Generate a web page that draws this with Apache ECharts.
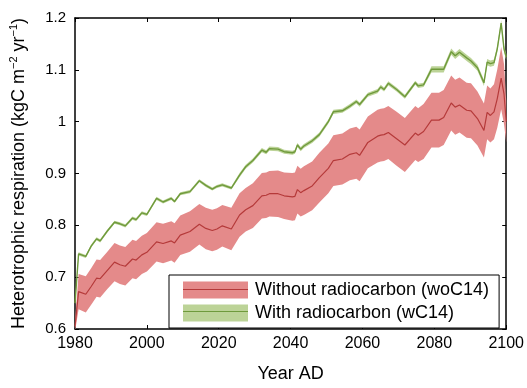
<!DOCTYPE html>
<html>
<head>
<meta charset="utf-8">
<script src="https://cdn.jsdelivr.net/npm/echarts@6/dist/echarts.min.js"></script>
<style>
html,body{margin:0;padding:0;background:#fff;}
#chart{width:527px;height:388px;}
</style>
</head>
<body>
<div id="chart"></div>
<script>
// ---- data ----
var years = [1980,1981,1983,1984.5,1986,1987,1989,1991,1992.5,1994,1996,1997,1998.6,2000,2002.7,2004.5,2006.8,2007.7,2009.3,2012,2014.6,2016.4,2018.2,2019.5,2021,2023.5,2025.8,2027.5,2029.5,2032,2033.2,2034.1,2036.5,2038.2,2040.5,2041.2,2041.9,2042.8,2043.7,2046,2048,2050.5,2051.9,2054.4,2056.5,2058.3,2059.2,2061.5,2064.2,2065.1,2066,2067.2,2069.5,2071.8,2073.3,2074.7,2075.5,2077,2079.2,2081.3,2082.6,2084.7,2085.8,2087,2089,2090.2,2092,2093.8,2094.7,2095.6,2096.6,2097.5,2098.6,2099.4,2100];

var wC14 = [0.65,0.745,0.740,0.760,0.774,0.770,0.789,0.806,0.803,0.799,0.814,0.811,0.824,0.821,0.852,0.845,0.852,0.846,0.861,0.865,0.886,0.877,0.870,0.875,0.878,0.872,0.897,0.913,0.925,0.945,0.941,0.948,0.947,0.942,0.940,0.942,0.955,0.947,0.953,0.963,0.975,1.000,1.019,1.021,1.030,1.039,1.033,1.052,1.059,1.067,1.062,1.074,1.062,1.048,1.062,1.075,1.069,1.071,1.101,1.101,1.101,1.135,1.127,1.134,1.123,1.117,1.104,1.075,1.115,1.112,1.114,1.140,1.190,1.140,1.125];

var wC14Spread = [0.003,0.003,0.003,0.003,0.003,0.003,0.003,0.003,0.003,0.003,0.003,0.003,0.003,0.003,0.003,0.003,0.003,0.003,0.003,0.003,0.003,0.003,0.003,0.003,0.003,0.003,0.004,0.004,0.004,0.004,0.004,0.004,0.004,0.004,0.004,0.004,0.004,0.004,0.004,0.004,0.004,0.004,0.004,0.004,0.004,0.004,0.004,0.004,0.004,0.004,0.004,0.004,0.004,0.004,0.004,0.004,0.004,0.004,0.006,0.006,0.006,0.006,0.006,0.006,0.006,0.006,0.006,0.006,0.006,0.006,0.006,0.006,0.006,0.006,0.006];

var woC14 = [0.605,0.672,0.667,0.682,0.698,0.697,0.713,0.729,0.724,0.721,0.735,0.733,0.743,0.748,0.768,0.765,0.770,0.766,0.781,0.788,0.802,0.794,0.790,0.793,0.799,0.793,0.820,0.830,0.838,0.857,0.858,0.861,0.861,0.857,0.855,0.856,0.869,0.863,0.867,0.876,0.892,0.910,0.925,0.928,0.937,0.940,0.935,0.960,0.972,0.974,0.975,0.979,0.967,0.955,0.967,0.978,0.974,0.981,1.003,1.003,1.008,1.036,1.028,1.032,1.022,1.021,1.006,0.983,1.018,1.012,1.019,1.044,1.084,1.053,1.000];

var woC14Spread = [0.010,0.034,0.035,0.035,0.036,0.036,0.036,0.037,0.037,0.037,0.037,0.037,0.037,0.037,
  0.038,0.038,0.038,0.038,0.038,0.039,0.039,0.040,0.040,0.040,0.040,0.041,
  0.042,0.042,0.043,0.044,0.044,0.044,0.045,0.045,0.046,0.046,0.046,0.046,0.047,0.047,0.048,
  0.048,0.049,0.049,0.050,0.050,0.050,0.050,0.051,0.051,0.051,0.051,0.052,0.052,0.052,0.052,0.052,0.053,
  0.053,0.053,0.053,0.053,0.053,0.053,0.053,0.053,0.052,0.052,0.052,0.052,0.053,0.056,0.060,0.058,0.040];

var seriesNames = ['Without radiocarbon (woC14)', 'With radiocarbon (wC14)'];
var xTicks = [1980, 2000, 2020, 2040, 2060, 2080, 2100];
var yTicks = [0.6, 0.7, 0.8, 0.9, 1.0, 1.1, 1.2];

// ---- build series data ----
function pairs(vals) { return years.map(function (y, i) { return [y, vals[i]]; }); }
function bandData(vals, sp) {
  return years.map(function (y, i) { return [y, vals[i] - sp[i], vals[i] + sp[i]]; });
}
function makeBand(name, data, color) {
  return {
    name: name, type: 'custom', silent: true, clip: true,
    data: data, encode: {x: 0, y: [1, 2]},
    itemStyle: {color: color},
    renderItem: function (params, api) {
      if (params.dataIndex !== 0) return null;
      var pts = [], i;
      for (i = 0; i < data.length; i++) pts.push(api.coord([data[i][0], data[i][2]]));
      for (i = data.length - 1; i >= 0; i--) pts.push(api.coord([data[i][0], data[i][1]]));
      return {type: 'polygon', shape: {points: pts}, style: {fill: color}};
    }
  };
}

var RED_BAND = '#e48a8a', RED_LINE = '#b53a3a';
var GRN_BAND = '#bcd397', GRN_LINE = '#6f9a3c';
var FONT = 'Liberation Sans, Arial, Helvetica, sans-serif';

var chart = echarts.init(document.getElementById('chart'), null, {renderer: 'canvas'});

var axisCommon = {
  axisLine: {show: true, lineStyle: {color: '#000', width: 1.5}},
  axisTick: {show: true, inside: true, length: 4, lineStyle: {color: '#000', width: 1}},
  splitLine: {show: false}
};

var option = {
  animation: false,
  backgroundColor: '#fff',
  grid: {left: 72, right: 16, top: 18, bottom: 49, containLabel: false},
  xAxis: [
    Object.assign({
      type: 'value', min: xTicks[0], max: xTicks[xTicks.length - 1], interval: 20,
      position: 'bottom',
      name: 'Year AD', nameLocation: 'middle', nameGap: 36,
      nameTextStyle: {fontFamily: FONT, fontSize: 18, color: '#000'},
      axisLabel: {fontFamily: FONT, fontSize: 16, color: '#000', margin: 7,
        formatter: function (v) { return String(v); }}
    }, axisCommon),
    Object.assign({
      type: 'value', min: xTicks[0], max: xTicks[xTicks.length - 1], interval: 20,
      position: 'top', axisLabel: {show: false}
    }, axisCommon)
  ],
  yAxis: [
    Object.assign({
      type: 'value', min: yTicks[0], max: yTicks[yTicks.length - 1], interval: 0.1,
      position: 'left',
      name: '{a|Heterotrophic respiration (kgC m}{s|−2}{a| yr}{s|−1}{a|)}',
      nameLocation: 'middle', nameGap: 45,
      nameTextStyle: {
        rich: {
          a: {fontFamily: FONT, fontSize: 18, color: '#000', lineHeight: 22},
          s: {fontFamily: FONT, fontSize: 11, color: '#000', verticalAlign: 'top', lineHeight: 22}
        }
      },
      axisLabel: {fontFamily: FONT, fontSize: 15, color: '#000', margin: 9}
    }, axisCommon),
    Object.assign({
      type: 'value', min: yTicks[0], max: yTicks[yTicks.length - 1], interval: 0.1,
      position: 'right', axisLabel: {show: false}
    }, axisCommon)
  ],
  legend: {
    data: seriesNames,
    orient: 'vertical',
    left: 169, top: 275,
    padding: [6, 10, 6, 14],
    itemGap: 5,
    itemWidth: 65, itemHeight: 17,
    icon: 'rect',
    borderColor: '#000', borderWidth: 1,
    backgroundColor: '#fff',
    selectedMode: false,
    textStyle: {fontFamily: FONT, fontSize: 18, color: '#000', padding: [0, 0, 0, 2]}
  },
  series: [
    makeBand(seriesNames[0], bandData(woC14, woC14Spread), RED_BAND),
    {name: 'wo_mean', type: 'line', data: pairs(woC14), showSymbol: false, silent: true,
     lineStyle: {color: RED_LINE, width: 1.2}, itemStyle: {color: RED_LINE}},
    makeBand(seriesNames[1], bandData(wC14, wC14Spread), GRN_BAND),
    {name: 'w_mean', type: 'line', data: pairs(wC14), showSymbol: false, silent: true,
     lineStyle: {color: GRN_LINE, width: 1.4}, itemStyle: {color: GRN_LINE}}
  ],
  graphic: [
    {type: 'line', shape: {x1: 183, y1: 289.5, x2: 248, y2: 289.5}, style: {stroke: RED_LINE, lineWidth: 1}, z: 100},
    {type: 'line', shape: {x1: 183, y1: 311.5, x2: 248, y2: 311.5}, style: {stroke: GRN_LINE, lineWidth: 1}, z: 100}
  ]
};
chart.setOption(option);
</script>
</body>
</html>
